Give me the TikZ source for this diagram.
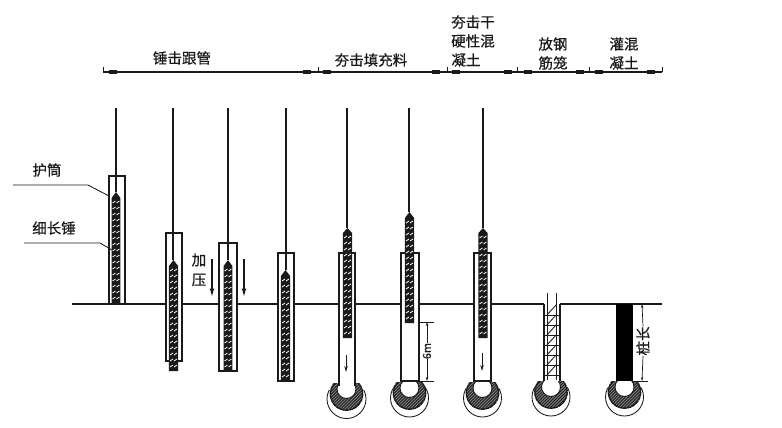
\documentclass[tikz,border=0pt]{standalone}
\usepackage{fontspec}
\setmainfont{Noto Sans CJK SC}[RawFeature={embolden=0.5}]
\usetikzlibrary{arrows.meta}
\definecolor{ink}{HTML}{1A1A1A}
\tikzset{
  x=1pt,y=-1pt,
  lbl/.style={inner sep=0pt,font=\fontsize{14.5}{15}\selectfont,text=ink},
  line/.style={draw=ink,line width=1.05pt},
  thin line/.style={draw=ink,line width=0.85pt},
  tube/.style={draw=ink,line width=1.1pt,fill=white},
  down/.style={draw=ink,line width=1.7pt,-{Stealth[length=8pt,width=4.5pt]}},
  small down/.style={draw=ink,line width=0.9pt,-{Stealth[length=6pt,width=3.5pt]}},
  dimtip/.style={draw=ink,line width=0.7pt,-{Stealth[length=4pt,width=2.5pt]}}
}
% hammer: centre x, half width, tip y, shoulder y, bottom y
\newcommand{\hammer}[5]{%
  \fill[ink] (#1-#2,#5) -- (#1-#2,#4) -- (#1,#3) -- (#1+#2,#4) -- (#1+#2,#5) -- cycle;
  \pgfmathsetmacro{\ya}{#4+3}
  \pgfmathsetmacro{\yb}{#4+9}
  \foreach \yy in {\ya,\yb,...,#5}{
    \ifdim\yy pt<\dimexpr#5pt-2pt\relax
      \draw[white,line width=0.8pt] (#1-3.4,\yy+2) -- (#1-0.6,\yy);
      \draw[white,line width=0.8pt] (#1+0.6,\yy+2) -- (#1+3.4,\yy);
    \fi
  }
}
% bulb: centre x, outer centre y, outer radius, height of the outer line above centre
\newcommand{\bulb}[4]{%
  \begin{scope}
    \clip (#1-25,#2-#4) rectangle (#1+25,#2+25);
    \draw[thin line] (#1,#2) circle[radius=#3];
  \end{scope}
  \begin{scope}
    \clip (#1-20,#2-15.5) rectangle (#1+20,#2+20);
    \fill[white] (#1,#2-5) circle[radius=16.5];
    \begin{scope}
      \clip (#1,#2-5) circle[radius=16.5];
      \fill[black!50] (#1,#2-5) circle[radius=16.5];
      \foreach \k in {-36,-33,...,36}
        \draw[ink,line width=0.9pt] (#1+\k-20,#2+15) -- (#1+\k+20,#2-25);
    \end{scope}
    \draw[ink,line width=1.4pt,dash pattern=on 4pt off 0.6pt] (#1,#2-5) circle[radius=16.2];
    \fill[white] (#1,#2-10) circle[radius=9.5];
    \draw[ink,line width=0.9pt] (#1,#2-10) circle[radius=9.5];
  \end{scope}
}
\begin{document}
\begin{tikzpicture}
\useasboundingbox (0,0) rectangle (782,428);
\fill[white] (0,0) rectangle (782,428);

% top dimension chain
\coordinate (dl) at (103,72); \coordinate (dr) at (662,72);
\draw[line] (dl) -- (dr);
\foreach \t in {103,318,447,517,589,662} \draw[thin line] (\t,67) -- (\t,72);
\foreach \m in {113,307,327,436,456,508,528,580,599,651}
  \fill[ink] (\m-4,70) rectangle (\m+4,74);

% top labels
\node[lbl] (t1) at (182,58) {锤击跟管};
\node[lbl] (t2) at (371,60) {夯击填充料};
\node[lbl] (t3a) at (473,22) {夯击干};
\node[lbl] (t3b) at (473,41) {硬性混};
\node[lbl] (t3c) at (466,60) {凝土};
\node[lbl] (t4a) at (553,44) {放钢};
\node[lbl] (t4b) at (553,63) {筋笼};
\node[lbl] (t5a) at (624,44) {灌混};
\node[lbl] (t5b) at (624,63) {凝土};

% ground
\coordinate (g0) at (72,304); \coordinate (g1) at (662,304);
\draw[line] (g0) -- (g1);

% rods
\foreach \r/\b in {347/228,409/212,483/228}
  \draw[line] (\r,108) -- (\r,\b);

% piles 1-4
\draw[tube] (109,176) rectangle (125,304);
\draw[line] (116,108) -- (116,192);
\hammer{116}{4.4}{192}{198}{304}
\draw[tube] (166,233) rectangle (182,361);
\draw[line] (173,108) -- (173,260);
\hammer{173.5}{4.6}{260}{266}{371}
\draw[tube] (219,243) rectangle (237,371);
\draw[line] (228,108) -- (228,260);
\hammer{228}{4.4}{260}{266}{371}
\draw[tube] (278,253) rectangle (294,381);
\draw[line] (286,108) -- (286,270);
\hammer{285.5}{4.6}{270}{276}{381}

% side labels
\node[lbl] (a) at (47,170) {护筒};
\node[lbl] (b) at (54,228) {细长锤};
\coordinate (a0) at (13,185); \coordinate (a1) at (88,185); \coordinate (a2) at (109,196);
\coordinate (b0) at (24,243); \coordinate (b1) at (100,243); \coordinate (b2) at (112,250);
\draw[thin line] (a0) -- (a1) -- (a2);
\draw[thin line] (b0) -- (b1) -- (b2);

% pressure
\node[lbl] (p1) at (199,260) {加};
\node[lbl] (p2) at (199,280) {压};
\coordinate (s1) at (212,259); \coordinate (e1) at (212,296);
\coordinate (s2) at (244,259); \coordinate (e2) at (244,296);
\draw[down] (s1) -- (e1);
\draw[down] (s2) -- (e2);

% bulbs
\bulb{346.5}{399}{19.5}{9}
\bulb{409.5}{398}{19}{15}
\bulb{482.5}{398}{19}{10}
\bulb{551}{397}{19}{10}
\bulb{624.5}{397}{19}{10}

% pile 5
\fill[white] (339,253) rectangle (355,388);
\draw[ink,line width=1.1pt] (339,386) -- (339,253) -- (355,253) -- (355,386);
\hammer{347.5}{4.6}{228}{233}{338}
% pile 6
\draw[tube] (401,253) rectangle (419,381);
\hammer{409.5}{4.6}{212}{218}{323}
% pile 7
\draw[tube] (474,253) rectangle (491,381);
\hammer{483}{4.6}{228}{233}{338}

% small arrows
\coordinate (s5) at (346,355); \coordinate (e5) at (346,372);
\coordinate (s7) at (482,353); \coordinate (e7) at (482,371);
\draw[small down] (s5) -- (e5);
\draw[small down] (s7) -- (e7);

% 6 m dimension
\draw[thin line] (419,322) -- (434,322);
\draw[thin line] (419,381) -- (434,381);
\node[inner sep=0pt,rotate=90,font=\fontsize{11}{11}\selectfont,text=ink] (six) at (427,351) {6m};
\coordinate (d1) at (427,322); \coordinate (d2) at (427,381);
\draw[dimtip] (six.east) -- (d1);
\draw[dimtip] (six.west) -- (d2);

% cage
\fill[white] (544,303) rectangle (560,381);
\draw[ink,line width=1.1pt] (544,304) -- (544,381) (560,304) -- (560,381);
\draw[thin line] (547,293) -- (547,380) (556,293) -- (556,380);
\foreach \y in {315,325,335,345,355,365,375}
  \draw[thin line] (544,\y) -- (560,\y);
\foreach \y in {305,315,325,335,345,355,365}
  \draw[thin line] (547,\y+10) -- (556,\y);

% concrete pile
\fill[black] (616,304) rectangle (633,381);
\draw[thin line] (633,381) -- (648,381);
\node[lbl,rotate=90] (len) at (643,341) {桩长};
\coordinate (l1) at (642,304); \coordinate (l2) at (642,381);
\draw[dimtip] (len.east) -- (l1);
\draw[dimtip] (len.west) -- (l2);
\end{tikzpicture}
\end{document}
